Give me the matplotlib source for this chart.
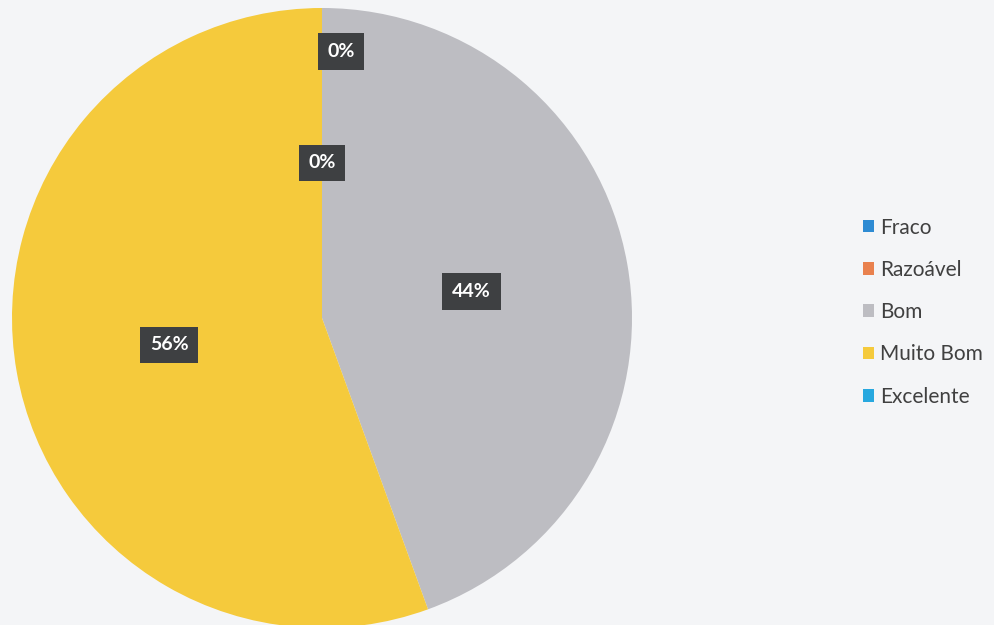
import numpy as np
import matplotlib.pyplot as plt

categorias = ["Fraco", "Razoável", "Bom", "Muito Bom", "Excelente"]
valores = [0, 0, 4, 5, 0]
cores = ["#2e8bd3", "#e9814e", "#bdbdc2", "#f5ca3c", "#27a8df"]
rotulos = ["0%", "0%", "44%", "56%", None]
dist_rotulos = [0.86, 0.5, 0.49, 0.5, 0.5]

plt.rcParams['font.family'] = ['Lato', 'DejaVu Sans']

fig = plt.figure(figsize=(9.94, 6.25), dpi=100)
fig.patch.set_facecolor("#f4f5f7")
ax = fig.add_axes([0, 0, 1, 1])
ax.set_facecolor("#f4f5f7")

centro = (322, 307)
raio = 310
wedges, _ = ax.pie(valores, colors=cores, startangle=90, counterclock=False,
                   center=centro, radius=raio, frame=True)
ax.set_xlim(0, 994)
ax.set_ylim(0, 625)
ax.set_aspect("equal")
ax.axis("off")

total = sum(valores)
inicio = 90.0
for v, r, d in zip(valores, rotulos, dist_rotulos):
    meio = inicio - 360.0 * v / total / 2
    inicio -= 360.0 * v / total
    if r is None:
        continue
    a = np.deg2rad(meio)
    x = centro[0] + np.cos(a) * raio * d
    y = centro[1] + np.sin(a) * raio * d
    if v == 0 and d > 0.8:
        x += 19
    ax.text(x, y, r, ha="center", va="center", color="white", fontsize=14,
            fontweight="bold",
            bbox=dict(boxstyle="square,pad=0.5", fc="#3e4042", ec="none"))

leg = ax.legend(wedges, categorias, loc="upper left", bbox_to_anchor=(0.849, 0.682),
                frameon=False, fontsize=15, handlelength=0.55, handleheight=0.55,
                handletextpad=0.3, labelspacing=1.07)
for t in leg.get_texts():
    t.set_color("#404040")

fig.savefig("out.png", dpi=100, facecolor=fig.get_facecolor())
